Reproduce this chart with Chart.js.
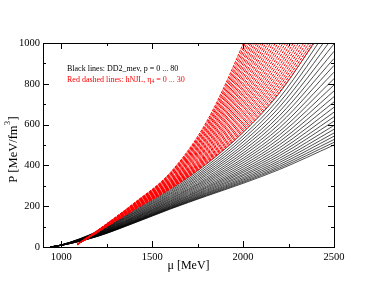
<!DOCTYPE html>
<html>
<head>
<meta charset="utf-8">
<script src="https://cdn.jsdelivr.net/npm/chart.js@4.4.1/dist/chart.umd.min.js"></script>
<style>
  html, body { margin: 0; padding: 0; background: #fff; }
</style>
</head>
<body>
<canvas id="myChart" width="376" height="291"></canvas>
<script>
// axis ticks
const xTicks = [1000, 1500, 2000, 2500];
const xMinor = [1250, 1750, 2250];
const yTicks = [0, 200, 400, 600, 800, 1000];
const yMinor = [100, 300, 500, 700, 900];

// black lines: DD2_mev, p = 0 ... 80  (P at these mu values)
const blackMu = [939, 1000, 1200, 1400, 1600, 1800, 2000, 2200, 2500];
const blackP = [
  [0, 8, 52, 117, 186, 250, 312, 380, 500],
  [0, 8, 53, 118, 188, 253, 317, 387, 513],
  [0, 8, 53, 120, 190, 256, 322, 395, 527],
  [0, 8, 54, 121, 192, 260, 328, 404, 543],
  [0, 8, 54, 123, 195, 264, 334, 414, 559],
  [0, 8, 55, 124, 197, 268, 341, 424, 577],
  [0, 9, 56, 126, 200, 273, 349, 435, 596],
  [0, 9, 57, 128, 203, 278, 356, 447, 617],
  [0, 9, 57, 130, 206, 283, 365, 459, 638],
  [0, 9, 58, 132, 210, 289, 373, 472, 661],
  [0, 9, 59, 135, 213, 294, 382, 486, 685],
  [0, 9, 60, 137, 217, 300, 392, 501, 711],
  [0, 9, 61, 140, 221, 307, 402, 516, 737],
  [0, 9, 63, 142, 225, 314, 413, 532, 765],
  [0, 9, 64, 145, 229, 321, 424, 549, 794],
  [0, 9, 65, 148, 234, 328, 435, 566, 825],
  [0, 9, 66, 151, 238, 335, 448, 584, 857],
  [0, 9, 67, 154, 243, 343, 460, 603, 890],
  [0, 9, 69, 158, 248, 352, 473, 623, 924],
  [0, 10, 70, 161, 253, 360, 487, 643, 959],
  [0, 10, 72, 165, 259, 369, 500, 664, 996],
  [0, 10, 73, 168, 264, 378, 515, 686, 1034],
  [0, 10, 75, 172, 270, 387, 530, 708, 1073],
  [0, 10, 76, 176, 276, 397, 545, 731, 1113],
  [0, 10, 78, 180, 282, 407, 561, 755, 1155]
];

// red dashed lines: hNJL, eta4 = 0 ... 30
const redMu = [1090, 1200, 1400, 1600, 1800, 2000, 2200, 2400];
const redP = [
  [12, 72, 182, 285, 410, 565, 760, 1010],
  [12, 72, 183, 287, 414, 574, 774, 1029],
  [12, 72, 183, 288, 419, 583, 789, 1049],
  [12, 73, 184, 290, 423, 593, 804, 1070],
  [12, 73, 185, 292, 428, 602, 820, 1092],
  [12, 73, 186, 294, 433, 613, 837, 1114],
  [12, 73, 186, 296, 438, 623, 854, 1138],
  [12, 74, 187, 298, 443, 635, 872, 1162],
  [13, 74, 188, 300, 449, 646, 890, 1187],
  [13, 74, 189, 302, 454, 658, 909, 1213],
  [13, 74, 190, 305, 460, 670, 929, 1240],
  [13, 75, 191, 307, 466, 683, 949, 1267],
  [13, 75, 192, 309, 472, 696, 970, 1296],
  [13, 75, 193, 312, 479, 709, 991, 1325],
  [13, 76, 194, 314, 485, 723, 1013, 1355],
  [13, 76, 195, 317, 492, 737, 1036, 1386],
  [13, 76, 196, 320, 499, 752, 1059, 1418],
  [13, 77, 197, 322, 506, 766, 1083, 1450],
  [14, 77, 199, 325, 513, 782, 1108, 1484],
  [14, 77, 200, 328, 521, 797, 1133, 1518],
  [14, 78, 201, 331, 528, 814, 1159, 1553],
  [14, 78, 202, 334, 536, 830, 1185, 1589],
  [14, 79, 204, 337, 544, 847, 1212, 1626],
  [14, 79, 205, 341, 552, 864, 1240, 1663],
  [14, 79, 206, 344, 561, 882, 1268, 1702],
  [14, 80, 208, 347, 569, 900, 1297, 1741],
  [14, 80, 209, 351, 578, 918, 1326, 1781],
  [14, 81, 210, 354, 587, 937, 1356, 1822],
  [15, 81, 212, 358, 596, 956, 1387, 1864],
  [15, 82, 213, 361, 605, 975, 1418, 1907],
  [15, 82, 215, 365, 615, 995, 1450, 1950]
];

const serif = '"Liberation Serif", "Times New Roman", serif';

function toPoints(mu, p) {
  return p.map((v, i) => ({ x: mu[i], y: v }));
}

const datasets = [];
// red first so it is painted on top of the black bundle
redP.forEach(function (row) {
  datasets.push({
    data: toPoints(redMu, row),
    borderColor: '#ff0000',
    borderWidth: 1,
    borderDash: [3, 1],
    pointRadius: 0,
    cubicInterpolationMode: 'monotone'
  });
});
blackP.forEach(function (row) {
  datasets.push({
    data: toPoints(blackMu, row),
    borderColor: '#000000',
    borderWidth: 0.7,
    pointRadius: 0,
    cubicInterpolationMode: 'monotone'
  });
});

// frame with inward ticks on all four sides, plus the text labels
const framePlugin = {
  id: 'frame',
  afterDraw(chart) {
    const ctx = chart.ctx;
    const a = chart.chartArea;
    const xs = chart.scales.x, ys = chart.scales.y;
    ctx.save();
    ctx.strokeStyle = '#000';
    ctx.lineWidth = 1;
    ctx.strokeRect(a.left + 0.5, a.top + 0.5, a.right - a.left, a.bottom - a.top);

    ctx.beginPath();
    const tickX = (v, len) => {
      const px = Math.round(xs.getPixelForValue(v)) + 0.5;
      ctx.moveTo(px, a.bottom); ctx.lineTo(px, a.bottom - len);
      ctx.moveTo(px, a.top); ctx.lineTo(px, a.top + len);
    };
    const tickY = (v, len) => {
      const py = Math.round(ys.getPixelForValue(v)) + 0.5;
      ctx.moveTo(a.left, py); ctx.lineTo(a.left + len, py);
      ctx.moveTo(a.right, py); ctx.lineTo(a.right - len, py);
    };
    xTicks.forEach(v => tickX(v, 6));
    xMinor.forEach(v => tickX(v, 3));
    yTicks.forEach(v => tickY(v, 6));
    yMinor.forEach(v => tickY(v, 3));
    ctx.stroke();

    // axis titles
    ctx.fillStyle = '#000';
    ctx.textBaseline = 'middle';
    ctx.font = '12px ' + serif;
    ctx.textAlign = 'center';
    ctx.fillText('\u03bc [MeV]', (a.left + a.right) / 2, 266);

    ctx.save();
    ctx.translate(14, 150);
    ctx.rotate(-Math.PI / 2);
    ctx.font = '12.5px ' + serif;
    const t1 = 'P [MeV/fm';
    const w1 = ctx.measureText(t1).width;
    const w3 = ctx.measureText(']').width;
    ctx.font = '8px ' + serif;
    const w2 = ctx.measureText('3').width;
    let x0 = -(w1 + w2 + w3) / 2;
    ctx.textAlign = 'left';
    ctx.font = '12.5px ' + serif;
    ctx.fillText(t1, x0, 0);
    ctx.font = '8px ' + serif;
    ctx.fillText('3', x0 + w1 + 0.5, -6);
    ctx.font = '12.5px ' + serif;
    ctx.fillText(']', x0 + w1 + w2 + 1, 0);
    ctx.restore();

    // in-plot notes
    ctx.textAlign = 'left';
    ctx.font = '8px ' + serif;
    ctx.fillStyle = '#000';
    ctx.fillText('Black lines: DD2_mev, p = 0 ... 80', 67, 69);
    ctx.fillStyle = '#ff0000';
    const r1 = 'Red dashed lines: hNJL, \u03b7';
    ctx.fillText(r1, 67, 80);
    const rw = ctx.measureText(r1).width;
    ctx.font = '5.5px ' + serif;
    ctx.fillText('4', 67 + rw, 82);
    const sw = ctx.measureText('4').width;
    ctx.font = '8px ' + serif;
    ctx.fillText(' = 0 ... 30', 67 + rw + sw, 80);
    ctx.restore();
  }
};

const ctx = document.getElementById('myChart').getContext('2d');
const myChart = new Chart(ctx, {
  type: 'line',
  data: { datasets: datasets },
  options: {
    responsive: false,
    animation: false,
    events: [],
    layout: { padding: { top: 43, right: 42, left: 0, bottom: 0 } },
    plugins: { legend: { display: false }, tooltip: { enabled: false } },
    scales: {
      x: {
        type: 'linear',
        min: 900,
        max: 2500,
        afterFit: s => { s.height = 44; },
        afterBuildTicks: s => { s.ticks = xTicks.map(v => ({ value: v })); },
        grid: { display: false, drawTicks: false },
        border: { display: false },
        ticks: {
          color: '#000',
          font: { family: serif, size: 10.5 },
          padding: 4,
          maxRotation: 0,
          autoSkip: false,
          callback: v => String(v)
        }
      },
      y: {
        type: 'linear',
        min: 0,
        max: 1000,
        afterFit: s => { s.width = 43; },
        afterBuildTicks: s => { s.ticks = yTicks.map(v => ({ value: v })); },
        grid: { display: false, drawTicks: false },
        border: { display: false },
        ticks: {
          color: '#000',
          font: { family: serif, size: 10.5 },
          padding: 3,
          autoSkip: false,
          callback: v => String(v)
        }
      }
    }
  },
  plugins: [framePlugin]
});
</script>
</body>
</html>
